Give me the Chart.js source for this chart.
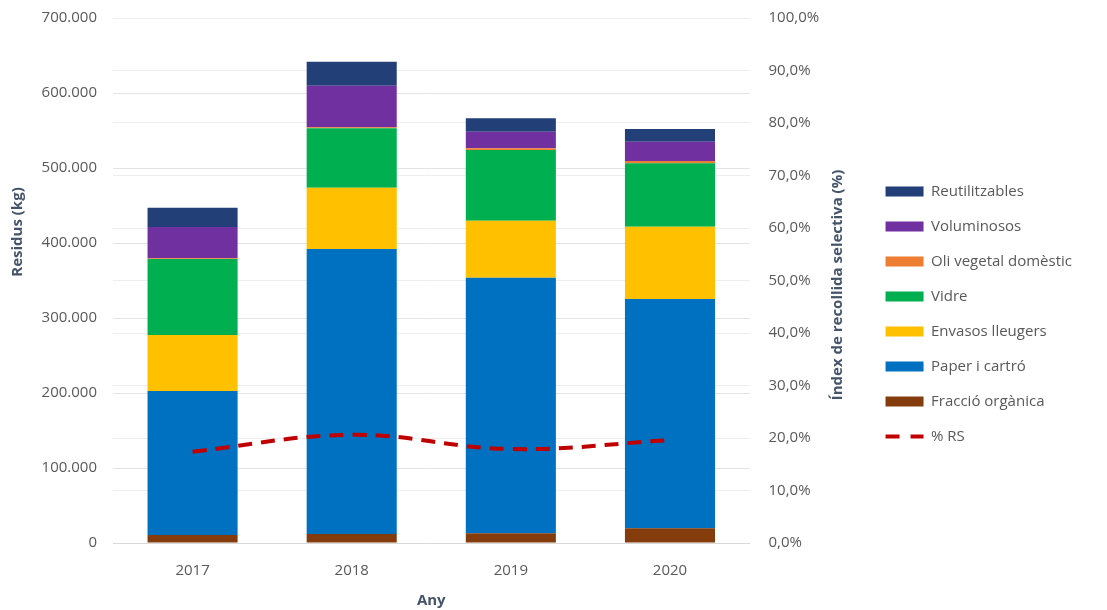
<!DOCTYPE html>
<html>
<head>
<meta charset="utf-8">
<script src="https://cdn.jsdelivr.net/npm/chart.js@4"></script>
<style>
    html, body { margin: 0; padding: 0; background: #fff; }
    #wrap { width: 1107px; height: 610px; }
</style>
</head>
<body>
<div id="wrap"><canvas id="residusChart" width="1107" height="610"></canvas></div>
<script>
const years = ['2017', '2018', '2019', '2020'];

const organica = [10700, 12000, 13000, 19600];
const paper = [192000, 380000, 340800, 305700];
const envasos = [74600, 81800, 76000, 96500];
const vidre = [101400, 79100, 94200, 84400];
const oli = [1000, 1500, 2200, 3100];
const voluminosos = [41700, 55400, 22200, 25800];
const reutilitzables = [25600, 32000, 17800, 16900];
const percentRS = [17.4, 20.6, 17.9, 19.6];

const leftTicks = [0, 100000, 200000, 300000, 400000, 500000, 600000, 700000];

const FONT = "'Open Sans', 'DejaVu Sans', sans-serif";
const tickColor = '#595959';
const titleColor = '#44546a';

function thousands(v) {
    return String(v).replace(/\B(?=(\d{3})+(?!\d))/g, '.');
}

function bar(label, data, color) {
    return {
        type: 'bar',
        label: label,
        data: data,
        backgroundColor: color,
        borderWidth: 0,
        yAxisID: 'y',
        stack: 'residus',
        categoryPercentage: 1,
        barPercentage: 0.566
    };
}

// fixed width for a value axis, no extra room above or below the plot
function fixWidth(w) {
    return (scale) => {
        scale.width = w;
        scale.paddingTop = 0;
        scale.paddingBottom = 0;
    };
}

// titles of the two value axes, both read bottom to top
const axisTitles = {
    id: 'axisTitles',
    afterDraw(chart) {
        const ctx = chart.ctx;
        ctx.save();
        ctx.font = 'bold 15px ' + FONT;
        ctx.fillStyle = titleColor;
        ctx.textAlign = 'center';
        ctx.textBaseline = 'middle';

        ctx.save();
        ctx.translate(18, 232);
        ctx.rotate(-Math.PI / 2);
        ctx.fillText('Residus (kg)', 0, 0);
        ctx.restore();

        ctx.save();
        ctx.translate(838, 285);
        ctx.rotate(-Math.PI / 2);
        ctx.fillText('Índex de recollida selectiva (%)', 0, 0);
        ctx.restore();

        ctx.restore();
    }
};

const ctx = document.getElementById('residusChart').getContext('2d');

// eslint-disable-next-line no-undef
new Chart(ctx, {
    data: {
        labels: years,
        datasets: [
            {
                type: 'line',
                label: '% RS',
                data: percentRS,
                yAxisID: 'y1',
                borderColor: '#c00000',
                backgroundColor: '#c00000',
                borderWidth: 4,
                borderDash: [14, 9],
                tension: 0.4,
                pointRadius: 0,
                fill: false
            },
            bar('Fracció orgànica', organica, '#843c0c'),
            bar('Paper i cartró', paper, '#0070c0'),
            bar('Envasos lleugers', envasos, '#ffc000'),
            bar('Vidre', vidre, '#00b050'),
            bar('Oli vegetal domèstic', oli, '#ed7d31'),
            bar('Voluminosos', voluminosos, '#7030a0'),
            bar('Reutilitzables', reutilitzables, '#233f78')
        ]
    },
    options: {
        responsive: false,
        animation: false,
        layout: {
            padding: { top: 18, right: 25, bottom: 0, left: 0 }
        },
        plugins: {
            tooltip: { enabled: false },
            legend: {
                position: 'right',
                reverse: true,
                maxWidth: 300,
                labels: {
                    font: { family: FONT, size: 15 },
                    color: tickColor,
                    usePointStyle: true,
                    pointStyleWidth: 38,
                    boxHeight: 10,
                    padding: 20,
                    generateLabels: (chart) => {
                        const items = Chart.defaults.plugins.legend.labels.generateLabels(chart);
                        items.forEach((item) => {
                            const ds = chart.data.datasets[item.datasetIndex];
                            if (ds.type === 'line') {
                                item.pointStyle = 'line';
                                item.strokeStyle = '#c00000';
                                item.lineWidth = 4;
                                item.lineDash = [14, 11];
                            } else {
                                item.pointStyle = 'rect';
                                item.lineWidth = 0;
                            }
                        });
                        return items;
                    }
                }
            }
        },
        scales: {
            x: {
                stacked: true,
                afterFit: (scale) => { scale.height = 67; },
                grid: { display: false, drawTicks: false },
                border: { color: '#d9d9d9' },
                ticks: {
                    font: { family: FONT, size: 15 },
                    color: tickColor,
                    padding: 19
                },
                title: {
                    display: true,
                    text: 'Any',
                    font: { family: FONT, size: 15, weight: 'bold' },
                    color: titleColor,
                    padding: { top: 0, bottom: 0 }
                }
            },
            y: {
                stacked: true,
                position: 'left',
                min: 0,
                max: 700000,
                afterFit: fixWidth(113),
                afterBuildTicks: (scale) => {
                    scale.ticks = leftTicks.map(v => ({ value: v }));
                },
                grid: { color: '#e3e3e3', drawTicks: false },
                border: { display: false },
                ticks: {
                    font: { family: FONT, size: 15 },
                    color: tickColor,
                    padding: 16,
                    callback: (v) => thousands(v)
                }
            },
            y1: {
                position: 'right',
                min: 0,
                max: 100,
                afterFit: fixWidth(116),
                grid: { color: '#eeeeee', drawTicks: false },
                border: { display: false },
                ticks: {
                    stepSize: 10,
                    font: { family: FONT, size: 15 },
                    color: tickColor,
                    padding: 19,
                    callback: (v) => v.toFixed(1).replace('.', ',') + '%'
                }
            }
        }
    },
    plugins: [axisTitles]
});
</script>
</body>
</html>
